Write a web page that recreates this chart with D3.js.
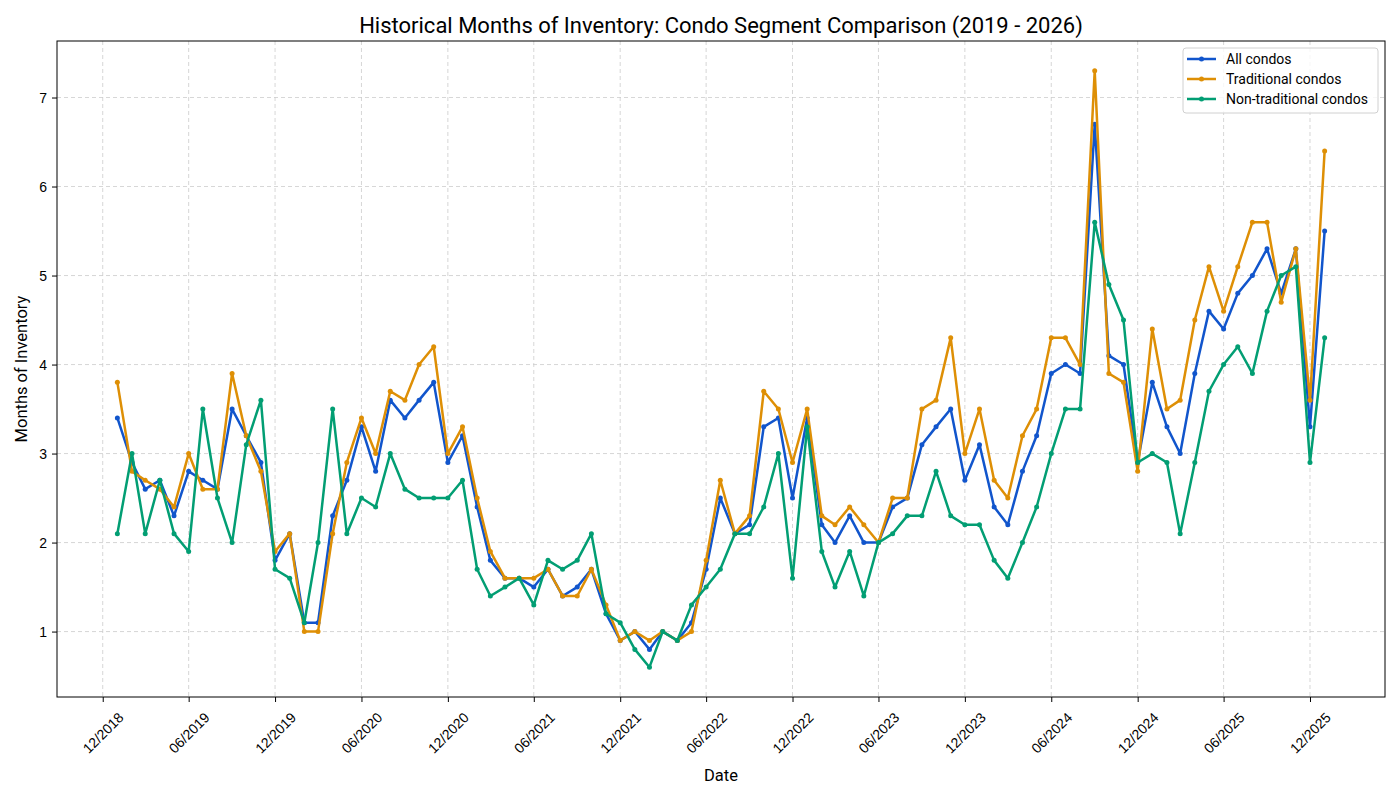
<!DOCTYPE html>
<html><head><meta charset="utf-8">
<script src="https://cdn.jsdelivr.net/npm/d3@7"></script>
<style>
body{margin:0;background:#fff;}
svg{font-family:Roboto,"Noto Sans",sans-serif;}
</style></head>
<body><svg id="c" width="1400" height="800"></svg>
<script>
const startMonth = "2019-01";
const endMonth = "2026-01";
const seriesNames = ["All condos", "Traditional condos", "Non-traditional condos"];
const seriesColors = ["#1155cc", "#de8f05", "#029e73"];
const allCondos = [3.4,2.9,2.6,2.7,2.3,2.8,2.7,2.6,3.5,3.2, 2.9,1.8,2.1,1.1,1.1,2.3,2.7,3.3,2.8,3.6, 3.4,3.6,3.8,2.9,3.2,2.4,1.8,1.6,1.6,1.5, 1.7,1.4,1.5,1.7,1.2,0.9,1.0,0.8,1.0,0.9, 1.1,1.7,2.5,2.1,2.2,3.3,3.4,2.5,3.4,2.2, 2.0,2.3,2.0,2.0,2.4,2.5,3.1,3.3,3.5,2.7, 3.1,2.4,2.2,2.8,3.2,3.9,4.0,3.9,6.7,4.1, 4.0,2.9,3.8,3.3,3.0,3.9,4.6,4.4,4.8,5.0, 5.3,4.8,5.3,3.3,5.5];
const traditional = [3.8,2.8,2.7,2.6,2.4,3.0,2.6,2.6,3.9,3.2, 2.8,1.9,2.1,1.0,1.0,2.1,2.9,3.4,3.0,3.7, 3.6,4.0,4.2,3.0,3.3,2.5,1.9,1.6,1.6,1.6, 1.7,1.4,1.4,1.7,1.3,0.9,1.0,0.9,1.0,0.9, 1.0,1.8,2.7,2.1,2.3,3.7,3.5,2.9,3.5,2.3, 2.2,2.4,2.2,2.0,2.5,2.5,3.5,3.6,4.3,3.0, 3.5,2.7,2.5,3.2,3.5,4.3,4.3,4.0,7.3,3.9, 3.8,2.8,4.4,3.5,3.6,4.5,5.1,4.6,5.1,5.6, 5.6,4.7,5.3,3.6,6.4];
const nonTraditional = [2.1,3.0,2.1,2.7,2.1,1.9,3.5,2.5,2.0,3.1, 3.6,1.7,1.6,1.1,2.0,3.5,2.1,2.5,2.4,3.0, 2.6,2.5,2.5,2.5,2.7,1.7,1.4,1.5,1.6,1.3, 1.8,1.7,1.8,2.1,1.2,1.1,0.8,0.6,1.0,0.9, 1.3,1.5,1.7,2.1,2.1,2.4,3.0,1.6,3.3,1.9, 1.5,1.9,1.4,2.0,2.1,2.3,2.3,2.8,2.3,2.2, 2.2,1.8,1.6,2.0,2.4,3.0,3.5,3.5,5.6,4.9, 4.5,2.9,3.0,2.9,2.1,2.9,3.7,4.0,4.2,3.9, 4.6,5.0,5.1,2.9,4.3];
const xTickLabels = ["12/2018","06/2019","12/2019","06/2020","12/2020","06/2021","12/2021","06/2022","12/2022","06/2023","12/2023","06/2024","12/2024","06/2025","12/2025"];
const yTicks = [1,2,3,4,5,6,7];

const parseM = d3.timeParse("%Y-%m");
const parseT = d3.timeParse("%m/%Y");
const t0 = parseM(startMonth), t1 = parseM(endMonth);
const months = d3.timeMonth.range(t0, d3.timeMonth.offset(t1, 1));
const seriesVals = [allCondos, traditional, nonTraditional];

const svg = d3.select("#c");
const L = 57, R = 1385, T = 41, B = 697;
const span = t1 - t0;
const x = d3.scaleTime().domain([new Date(+t0 - 0.05*span), new Date(+t1 + 0.05*span)]).range([L, R]);
const allV = seriesVals.flat();
const vmin = d3.min(allV), vmax = d3.max(allV), vr = vmax - vmin;
const y = d3.scaleLinear().domain([vmin - 0.05*vr, vmax + 0.05*vr]).range([B, T]);
const xTicks = xTickLabels.map(s => parseT(s));

// grid
const g = svg.append("g");
g.selectAll(".gx").data(xTicks).join("line")
  .attr("x1", d => x(d)).attr("x2", d => x(d)).attr("y1", T).attr("y2", B)
  .attr("stroke", "#cccccc").attr("stroke-width", 0.8).attr("stroke-dasharray", "4,3");
g.selectAll(".gy").data(yTicks).join("line")
  .attr("x1", L).attr("x2", R).attr("y1", d => y(d)).attr("y2", d => y(d))
  .attr("stroke", "#cccccc").attr("stroke-width", 0.8).attr("stroke-dasharray", "4,3");

// axes
const xAxis = svg.append("g").attr("transform", `translate(0,${B})`)
  .call(d3.axisBottom(x).tickValues(xTicks).tickFormat((d,i) => xTickLabels[i]).tickSize(5).tickPadding(4));
xAxis.selectAll("text").attr("font-size", 14).attr("fill", "#000")
  .attr("text-anchor", "middle").attr("x", 0).attr("y", 0).attr("dy", "0.35em")
  .each(function() {
    const len = this.getComputedTextLength();
    const h = 14;
    const half = (len + h) * Math.SQRT1_2 / 2;
    d3.select(this).attr("transform", `translate(0,${13 + half}) rotate(-45)`);
  });
const yAxis = svg.append("g").attr("transform", `translate(${L},0)`)
  .call(d3.axisLeft(y).tickValues(yTicks).tickFormat(d3.format("d")).tickSize(5).tickPadding(5));
yAxis.selectAll("text").attr("font-size", 14).attr("fill", "#000");
[xAxis, yAxis].forEach(a => { a.select(".domain").remove(); a.selectAll("line").attr("stroke", "#000"); });

svg.append("rect").attr("x", L).attr("y", T).attr("width", R-L).attr("height", B-T)
  .attr("fill", "none").attr("stroke", "#000").attr("stroke-width", 1);

// lines
const line = d3.line().x((d,i) => x(months[i])).y(d => y(d));
seriesVals.forEach((vals, si) => {
  const sg = svg.append("g");
  sg.append("path").datum(vals).attr("d", line).attr("fill", "none")
    .attr("stroke", seriesColors[si]).attr("stroke-width", 2.5).attr("stroke-linejoin", "round");
  sg.selectAll("circle").data(vals).join("circle")
    .attr("cx", (d,i) => x(months[i])).attr("cy", d => y(d)).attr("r", 2.5).attr("fill", seriesColors[si]);
});

// labels
svg.append("text").attr("x", (L+R)/2).attr("y", 33).attr("text-anchor", "middle")
  .attr("font-size", 22).attr("fill", "#000")
  .text("Historical Months of Inventory: Condo Segment Comparison (2019 - 2026)");
svg.append("text").attr("x", (L+R)/2).attr("y", 781).attr("text-anchor", "middle")
  .attr("font-size", 16.5).attr("fill", "#000").text("Date");
svg.append("text").attr("transform", `translate(27,${(T+B)/2}) rotate(-90)`).attr("text-anchor", "middle")
  .attr("font-size", 16.5).attr("fill", "#000").text("Months of Inventory");

// legend
const lg = svg.append("g");
lg.append("rect").attr("x", 1183).attr("y", 48).attr("width", 195).attr("height", 65).attr("rx", 3)
  .attr("fill", "#fff").attr("fill-opacity", 0.8).attr("stroke", "#d0d0d0");
seriesNames.forEach((n, i) => {
  const yy = 59 + i*20;
  lg.append("line").attr("x1", 1187).attr("x2", 1216).attr("y1", yy).attr("y2", yy)
    .attr("stroke", seriesColors[i]).attr("stroke-width", 2.5);
  lg.append("circle").attr("cx", 1201.5).attr("cy", yy).attr("r", 2.5).attr("fill", seriesColors[i]);
  lg.append("text").attr("x", 1226).attr("y", yy).attr("dy", "0.35em").attr("font-size", 14)
    .attr("fill", "#000").text(n);
});
</script></body></html>
